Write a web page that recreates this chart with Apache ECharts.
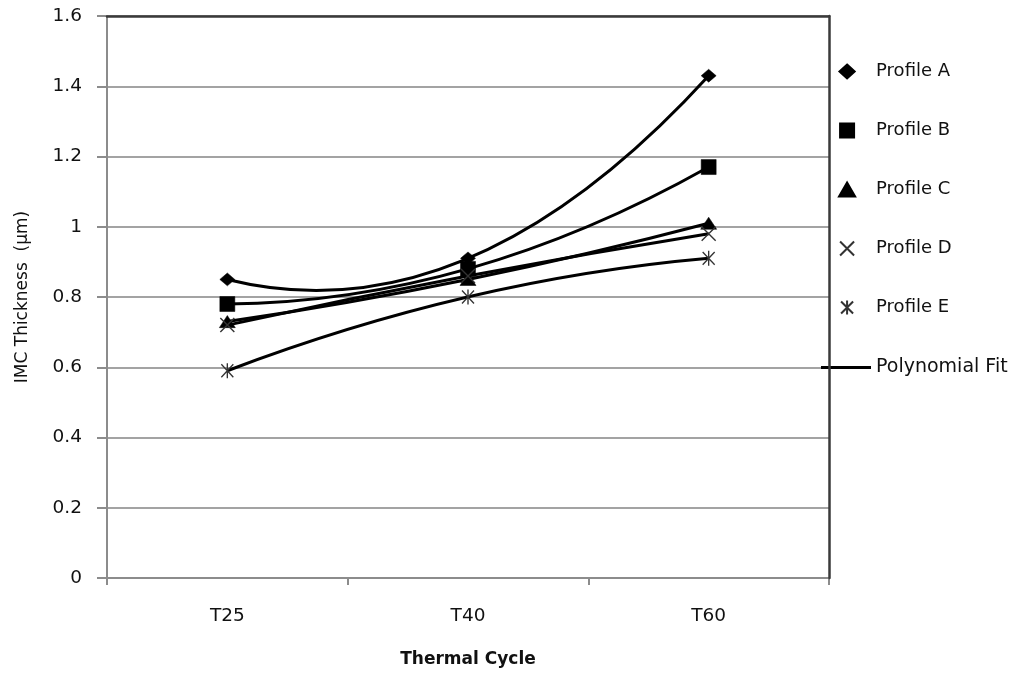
<!DOCTYPE html>
<html>
<head>
<meta charset="utf-8">
<title>IMC Thickness vs Thermal Cycle</title>
<script src="https://cdn.jsdelivr.net/npm/echarts@6/dist/echarts.min.js"></script>
<style>
  html, body { margin: 0; padding: 0; background: #fff; }
  #chart { width: 1025px; height: 673px; }
</style>
</head>
<body>
<div id="chart"></div>
<script>
// Thermal cycle categories
const cycles = ['T25', 'T40', 'T60'];

// IMC thickness (µm) per solder profile
const profileA = [0.85, 0.91, 1.43];
const profileB = [0.78, 0.88, 1.17];
const profileC = [0.73, 0.85, 1.01];
const profileD = [0.72, 0.86, 0.98];
const profileE = [0.59, 0.80, 0.91];

const profileNames = ['Profile A', 'Profile B', 'Profile C', 'Profile D', 'Profile E'];
const fitName = 'Polynomial Fit';

// Y axis range
const yMin = 0;
const yMax = 1.6;
const yStep = 0.2;

const FONT = '"DejaVu Sans", Verdana, sans-serif';

// Marker shapes
const shapes = {
  diamond: 'path://M6,0L12,5.5L6,11L0,5.5Z',
  square: 'path://M0,0H13V13H0Z',
  triangle: 'path://M7.5,0L15,13H0Z',
  cross: 'path://M0,0L12,12M12,0L0,12',
  star: 'path://M0,0L12,12M12,0L0,12M6,-1L6,13'
};

const profiles = [
  { name: profileNames[0], values: profileA, shape: shapes.diamond, size: [15, 14], filled: true },
  { name: profileNames[1], values: profileB, shape: shapes.square, size: [15, 15], filled: true },
  { name: profileNames[2], values: profileC, shape: shapes.triangle, size: [16, 14], filled: true },
  { name: profileNames[3], values: profileD, shape: shapes.cross, size: [14, 14], filled: false },
  { name: profileNames[4], values: profileE, shape: shapes.star, size: [14, 15], filled: false }
];

// Second-order polynomial fit through the three cycles of each profile,
// drawn as a quadratic Bezier: x is linear in the cycle index, so the
// parabola through P0, P1, P2 has control point 2*P1 - (P0 + P2) / 2.
function renderFit(params, api) {
  const p0 = api.coord([0, api.value(1)]);
  const p1 = api.coord([1, api.value(2)]);
  const p2 = api.coord([2, api.value(3)]);
  const cx = 2 * p1[0] - (p0[0] + p2[0]) / 2;
  const cy = 2 * p1[1] - (p0[1] + p2[1]) / 2;
  return {
    type: 'bezierCurve',
    shape: { x1: p0[0], y1: p0[1], x2: p2[0], y2: p2[1], cpx1: cx, cpy1: cy },
    style: { stroke: '#000', lineWidth: 3, fill: null }
  };
}

const series = [
  {
    name: fitName,
    type: 'custom',
    renderItem: renderFit,
    encode: { x: 0, y: [1, 2, 3] },
    data: profiles.map(p => [0, p.values[0], p.values[1], p.values[2]]),
    itemStyle: { color: '#000' },
    z: 3
  }
];

// data markers
profiles.forEach(p => {
  series.push({
    name: p.name,
    type: 'scatter',
    data: p.values,
    symbol: p.shape,
    symbolSize: p.size,
    symbolKeepAspect: true,
    itemStyle: p.filled
      ? { color: '#000', borderColor: '#000', borderWidth: 0.5, opacity: 1 }
      : { color: 'rgba(0,0,0,0)', borderColor: '#333', borderWidth: 1.4, opacity: 1 },
    z: 4
  });
});

const chart = echarts.init(document.getElementById('chart'), null, { renderer: 'canvas' });

chart.setOption({
  animation: false,
  backgroundColor: '#fff',
  textStyle: { fontFamily: FONT },
  grid: { left: 107, right: 196, top: 16, bottom: 95 },
  legend: [
    {
      orient: 'vertical',
      left: 833,
      top: 57.5,
      itemWidth: 48,
      itemHeight: 14,
      itemGap: 41,
      symbolKeepAspect: true,
      selectedMode: false,
      textStyle: { fontFamily: FONT, fontSize: 18, color: '#111' },
      data: profiles.map(p => ({ name: p.name, icon: p.shape }))
    },
    {
      orient: 'vertical',
      left: 816,
      top: 353,
      itemWidth: 50,
      itemHeight: 3,
      selectedMode: false,
      textStyle: { fontFamily: FONT, fontSize: 19, color: '#111' },
      data: [{ name: fitName, icon: 'rect', itemStyle: { color: '#000' } }]
    }
  ],
  xAxis: [
    {
      type: 'category',
      data: cycles,
      boundaryGap: true,
      position: 'bottom',
      name: 'Thermal Cycle',
      nameLocation: 'middle',
      nameGap: 73,
      nameTextStyle: { fontFamily: FONT, fontSize: 17, fontWeight: 'bold', color: '#111' },
      axisLine: { onZero: false, lineStyle: { color: '#8c8c8c', width: 2 } },
      axisTick: { show: true, inside: false, length: 7, interval: 0, lineStyle: { color: '#8c8c8c', width: 2 } },
      axisLabel: { margin: 29, fontFamily: FONT, fontSize: 18.5, color: '#111' },
      splitLine: { show: false }
    },
    {
      // plot frame, top edge
      type: 'category',
      data: cycles,
      position: 'top',
      z: 5,
      axisLine: { show: true, onZero: false, lineStyle: { color: '#3a3a3a', width: 2.5 } },
      axisTick: { show: false },
      axisLabel: { show: false },
      splitLine: { show: false }
    }
  ],
  yAxis: [
    {
      type: 'value',
      min: yMin,
      max: yMax,
      interval: yStep,
      position: 'left',
      name: 'IMC Thickness  (µm)',
      nameLocation: 'middle',
      nameGap: 76,
      nameRotate: 90,
      nameTextStyle: { fontFamily: FONT, fontSize: 17, color: '#111' },
      axisLine: { show: true, onZero: false, lineStyle: { color: '#8c8c8c', width: 2 } },
      axisTick: { show: true, inside: false, length: 10, lineStyle: { color: '#8c8c8c', width: 2 } },
      axisLabel: {
        margin: 25,
        fontFamily: FONT,
        fontSize: 18.5,
        color: '#111',
        formatter: v => String(Math.round(v * 10) / 10)
      },
      splitLine: { show: true, lineStyle: { color: '#a3a3a3', width: 2 } }
    },
    {
      // plot frame, right edge
      type: 'value',
      min: yMin,
      max: yMax,
      interval: yStep,
      position: 'right',
      z: 5,
      axisLine: { show: true, onZero: false, lineStyle: { color: '#3a3a3a', width: 2.5 } },
      axisTick: { show: false },
      axisLabel: { show: false },
      splitLine: { show: false }
    }
  ],
  series: series
});
</script>
</body>
</html>
